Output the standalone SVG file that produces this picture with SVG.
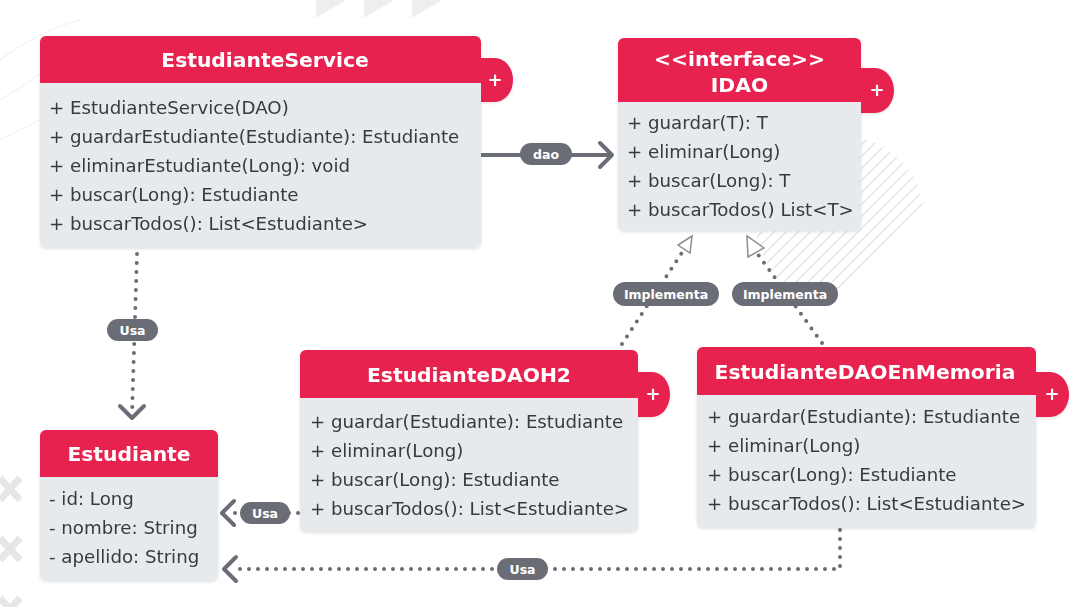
<svg xmlns="http://www.w3.org/2000/svg" width="1087" height="607" viewBox="0 0 1087 607">
<defs>
<style>
.hdr{fill:#e8204f}
.body{fill:#e6eaec}
.title{font-family:"DejaVu Sans",Verdana,sans-serif;font-weight:700;font-size:20.3px;fill:#fff;text-anchor:middle}
.row{font-family:"DejaVu Sans",Verdana,sans-serif;font-size:18.2px;fill:#363b40}
.plus{font-family:"DejaVu Sans",sans-serif;font-weight:700;font-size:18px;fill:#fff;text-anchor:middle}
.dot{fill:none;stroke:#6a6d76;stroke-width:4;stroke-linecap:round;stroke-dasharray:0 9}
.solid{fill:none;stroke:#6a6d76;stroke-width:4}
.chev{fill:none;stroke:#6a6d76;stroke-width:4;stroke-linecap:round;stroke-linejoin:round}
.tri{fill:#fff;stroke:#8a8d94;stroke-width:1.5}
.pill{fill:#6a6d76}
.pl{font-family:"DejaVu Sans",sans-serif;font-weight:700;font-size:12.5px;fill:#fff;text-anchor:middle}
.deco{fill:#eceef0}
.hatch{stroke:#e4e6e8;stroke-width:1.5}
</style>
<filter id="sh" x="-5%" y="-5%" width="110%" height="115%"><feDropShadow dx="0" dy="1" stdDeviation="1.5" flood-color="#000" flood-opacity="0.12"/></filter>
<clipPath id="cc"><circle cx="840" cy="220" r="85"/></clipPath>
</defs>
<g id="background">
<polygon class="deco" points="316,0 346,0 316,18"/>
<polygon class="deco" points="364,0 394,0 364,18"/>
<polygon class="deco" points="412,0 442,0 412,18"/>
<g clip-path="url(#cc)">
<g class="hatch">
<line x1="700" y1="330" x2="900" y2="130"/><line x1="712" y1="330" x2="912" y2="130"/><line x1="724" y1="330" x2="924" y2="130"/><line x1="736" y1="330" x2="936" y2="130"/><line x1="748" y1="330" x2="948" y2="130"/><line x1="760" y1="330" x2="960" y2="130"/><line x1="772" y1="330" x2="972" y2="130"/><line x1="784" y1="330" x2="984" y2="130"/><line x1="796" y1="330" x2="996" y2="130"/><line x1="688" y1="330" x2="888" y2="130"/><line x1="676" y1="330" x2="876" y2="130"/><line x1="664" y1="330" x2="864" y2="130"/><line x1="652" y1="330" x2="852" y2="130"/><line x1="640" y1="330" x2="840" y2="130"/><line x1="628" y1="330" x2="828" y2="130"/><line x1="616" y1="330" x2="816" y2="130"/>
</g>
</g>
<g stroke="#e4e6e8" stroke-width="7" stroke-linecap="butt">
<line x1="0" y1="478" x2="20" y2="500"/><line x1="20" y1="478" x2="0" y2="500"/>
<line x1="0" y1="538" x2="20" y2="560"/><line x1="20" y1="538" x2="0" y2="560"/>
<line x1="0" y1="598" x2="20" y2="620"/><line x1="20" y1="598" x2="0" y2="620"/>
</g>
<g fill="none" stroke="#f0f1f2" stroke-width="1.2">
<path d="M0,60 Q40,30 80,20"/><path d="M0,100 Q25,85 45,70"/><path d="M0,140 Q20,130 40,120"/>
</g>
</g>
<g id="connectors">
<line class="solid" x1="481" y1="155" x2="610" y2="155"/>
<polyline class="chev" points="600,143 612,155 600,167"/>
<rect class="pill" x="520" y="143" width="52" height="22" rx="11"/>
<text class="pl" x="546" y="158.5">dao</text>

<line class="dot" x1="137" y1="254" x2="132" y2="414"/>
<polyline class="chev" points="120,406 132,418 144,406"/>
<rect class="pill" x="107" y="319" width="51" height="22" rx="11"/>
<text class="pl" x="132.5" y="334.5">Usa</text>

<line class="dot" x1="298" y1="513" x2="230" y2="513"/>
<polyline class="chev" points="234,501 222,513 234,525"/>
<rect class="pill" x="240" y="502" width="50" height="22" rx="11"/>
<text class="pl" x="265" y="517.5">Usa</text>

<polyline class="dot" points="840,530 840,569 232,569"/>
<polyline class="chev" points="236,557 224,569 236,581"/>
<rect class="pill" x="497" y="558" width="51" height="22" rx="11"/>
<text class="pl" x="522.5" y="573.5">Usa</text>

<line class="dot" x1="622" y1="344" x2="683" y2="251"/>
<polygon class="tri" points="692,236 678,245 690,253"/>
<rect class="pill" x="613" y="282" width="106" height="24" rx="12"/>
<text class="pl" x="666" y="298.5">Implementa</text>

<line class="dot" x1="822" y1="343" x2="757" y2="253"/>
<polygon class="tri" points="747,236 748,257 764,248"/>
<rect class="pill" x="732" y="282" width="106" height="24" rx="12"/>
<text class="pl" x="785" y="298.5">Implementa</text>
</g>
<g id="EstudianteService" filter="url(#sh)">
<path class="hdr" d="M481,58 h14 a18,22 0 0 1 0,44 h-14 z"/>
<text class="plus" x="495" y="86">+</text>
<rect class="body" x="40" y="36" width="441" height="212" rx="6"/>
<path class="hdr" d="M46,36 h429 a6,6 0 0 1 6,6 v41 h-441 v-41 a6,6 0 0 1 6,-6 z"/>
<text class="title" x="265" y="67">EstudianteService</text>
<text class="row" x="49" y="114">+ EstudianteService(DAO)</text>
<text class="row" x="49" y="143">+ guardarEstudiante(Estudiante): Estudiante</text>
<text class="row" x="49" y="172">+ eliminarEstudiante(Long): void</text>
<text class="row" x="49" y="201">+ buscar(Long): Estudiante</text>
<text class="row" x="49" y="230">+ buscarTodos(): List&lt;Estudiante&gt;</text>
</g>
<g id="IDAO" filter="url(#sh)">
<path class="hdr" d="M861,68 h14 a19,22.5 0 0 1 0,45 h-14 z"/>
<text class="plus" x="877" y="96">+</text>
<rect class="body" x="618" y="38" width="243" height="193" rx="6"/>
<path class="hdr" d="M624,38 h231 a6,6 0 0 1 6,6 v58 h-243 v-58 a6,6 0 0 1 6,-6 z"/>
<text class="title" x="739.5" y="66">&lt;&lt;interface&gt;&gt;</text>
<text class="title" x="739.5" y="92">IDAO</text>
<text class="row" x="627" y="129">+ guardar(T): T</text>
<text class="row" x="627" y="158">+ eliminar(Long)</text>
<text class="row" x="627" y="187">+ buscar(Long): T</text>
<text class="row" x="627" y="216">+ buscarTodos() List&lt;T&gt;</text>
</g>
<g id="Estudiante" filter="url(#sh)">
<rect class="body" x="40" y="430" width="178" height="151" rx="6"/>
<path class="hdr" d="M46,430 h166 a6,6 0 0 1 6,6 v41 h-178 v-41 a6,6 0 0 1 6,-6 z"/>
<text class="title" x="129" y="461">Estudiante</text>
<text class="row" x="49" y="505">- id: Long</text>
<text class="row" x="49" y="534">- nombre: String</text>
<text class="row" x="49" y="563">- apellido: String</text>
</g>
<g id="EstudianteDAOH2" filter="url(#sh)">
<path class="hdr" d="M638,372 h14 a18,22.5 0 0 1 0,45 h-14 z"/>
<text class="plus" x="653" y="400">+</text>
<rect class="body" x="300" y="350" width="338" height="182" rx="6"/>
<path class="hdr" d="M306,350 h326 a6,6 0 0 1 6,6 v42 h-338 v-42 a6,6 0 0 1 6,-6 z"/>
<text class="title" x="469" y="382">EstudianteDAOH2</text>
<text class="row" x="310" y="428">+ guardar(Estudiante): Estudiante</text>
<text class="row" x="310" y="457">+ eliminar(Long)</text>
<text class="row" x="310" y="486">+ buscar(Long): Estudiante</text>
<text class="row" x="310" y="515">+ buscarTodos(): List&lt;Estudiante&gt;</text>
</g>
<g id="EstudianteDAOEnMemoria" filter="url(#sh)">
<path class="hdr" d="M1036,372 h14 a19,22.5 0 0 1 0,45 h-14 z"/>
<text class="plus" x="1052" y="400">+</text>
<rect class="body" x="697" y="347" width="339" height="181" rx="6"/>
<path class="hdr" d="M703,347 h327 a6,6 0 0 1 6,6 v42 h-339 v-42 a6,6 0 0 1 6,-6 z"/>
<text class="title" x="865" y="379">EstudianteDAOEnMemoria</text>
<text class="row" x="707" y="423">+ guardar(Estudiante): Estudiante</text>
<text class="row" x="707" y="452">+ eliminar(Long)</text>
<text class="row" x="707" y="481">+ buscar(Long): Estudiante</text>
<text class="row" x="707" y="510">+ buscarTodos(): List&lt;Estudiante&gt;</text>
</g>
</svg>
